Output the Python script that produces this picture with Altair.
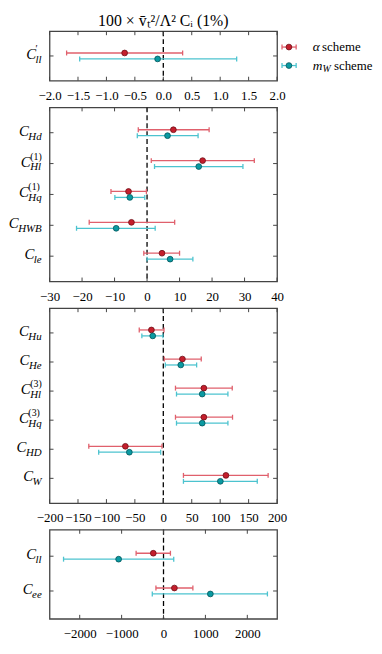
import altair as alt
import pandas as pd

FONT = "Liberation Serif"
FRAME = "#444444"
A_LINE, A_FILL, A_EDGE = "#e0606c", "#c41e2c", "#6e1018"
M_LINE, M_FILL, M_EDGE = "#4cc3cf", "#0a9aa2", "#05555a"
W = 230

# ---------------- data ----------------
# panel 1
p1_sub = ["ll"]
p1_sup = ["′"]
p1_a_c = [-0.68]; p1_a_lo = [-1.70]; p1_a_hi = [0.34]
p1_m_c = [-0.10]; p1_m_lo = [-1.47]; p1_m_hi = [1.29]
p1_ticks = [-2.0, -1.5, -1.0, -0.5, 0.0, 0.5, 1.0, 1.5, 2.0]

# panel 2
p2_sub = ["Hd", "Hl", "Hq", "HWB", "le"]
p2_sup = ["", "(1)", "(1)", "", ""]
p2_a_c = [8.1, 17.1, -5.7, -4.8, 4.6]
p2_a_lo = [-2.7, 1.3, -11.1, -17.8, -1.0]
p2_a_hi = [19.1, 33.0, -0.2, 8.5, 10.0]
p2_m_c = [6.3, 15.9, -5.3, -9.5, 7.1]
p2_m_lo = [-3.0, 2.3, -9.9, -21.7, 0.0]
p2_m_hi = [15.7, 29.5, -0.7, 2.5, 14.1]
p2_ticks = [-30, -20, -10, 0, 10, 20, 30, 40]

# panel 3
p3_sub = ["Hu", "He", "Hl", "Hq", "HD", "W"]
p3_sup = ["", "", "(3)", "(3)", "", ""]
p3_a_c = [-20.9, 33.6, 71.3, 71.3, -66.7, 110.1]
p3_a_lo = [-42.3, 1.7, 21.4, 21.4, -131.0, 35.4]
p3_a_hi = [1.2, 66.7, 121.2, 121.7, -2.3, 184.3]
p3_m_c = [-18.6, 30.7, 68.4, 68.4, -59.7, 100.3]
p3_m_lo = [-37.7, 3.5, 23.2, 23.2, -113.6, 35.4]
p3_m_hi = [-0.6, 58.6, 113.6, 113.6, -4.6, 165.2]
p3_ticks = [-200, -150, -100, -50, 0, 50, 100, 150, 200]

# panel 4
p4_sub = ["ll", "ee"]
p4_sup = ["", ""]
p4_a_c = [-244, 260]; p4_a_lo = [-654, -181]; p4_a_hi = [165, 701]
p4_m_c = [-1071, 1118]; p4_m_lo = [-2386, -268]; p4_m_hi = [244, 2480]
p4_ticks = [-2000, -1000, 0, 1000, 2000]

schemes = ["α scheme", "mW scheme"]

# approximate glyph widths (em) for label layout
CW = {"H": 0.72, "W": 0.83, "B": 0.61, "D": 0.72, "d": 0.5, "l": 0.28, "q": 0.5,
      "u": 0.5, "e": 0.44, "(": 0.33, ")": 0.33, "1": 0.5, "3": 0.5, "′": 0.3}


def tw(s, size):
    return sum(CW.get(ch, 0.5) for ch in s) * size


def panel(sub, sup, a_c, a_lo, a_hi, m_c, m_lo, m_hi, xdom, ticks, fmt, ydom, H,
          legend=False, title=None):
    n = len(sub)
    rows = list(range(n))
    ppx = (xdom[1] - xdom[0]) / W          # data units per pixel
    ppy = (ydom[1] - ydom[0]) / H
    xs = alt.Scale(domain=xdom, nice=False, zero=False)
    ys = alt.Scale(domain=ydom, nice=False, zero=False, reverse=True)
    axis = alt.Axis(values=ticks, format=fmt, title=None, orient="bottom")

    def X(f):
        return alt.X(f, type="quantitative", scale=xs, axis=axis)

    Y = alt.Y("row:Q", scale=ys, axis=None)

    da = pd.DataFrame({"row": rows, "c": a_c, "lo": a_lo, "hi": a_hi})
    dm = pd.DataFrame({"row": rows, "c": m_c, "lo": m_lo, "hi": m_hi})

    layers = []
    zero = alt.Chart(pd.DataFrame({"z": [0]})).mark_rule(
        color="black", strokeWidth=1.3, strokeDash=[5, 3]).encode(x=X("z"))
    layers.append(zero)

    for d, line, fill, edge, off in [(da, A_LINE, A_FILL, A_EDGE, -3),
                                     (dm, M_LINE, M_FILL, M_EDGE, 3)]:
        base = alt.Chart(d)
        layers.append(base.mark_rule(color=line, strokeWidth=1.3, yOffset=off)
                      .encode(x=X("lo"), x2="hi:Q", y=Y))
        layers.append(base.transform_fold(["lo", "hi"], as_=["k", "v"])
                      .mark_point(shape="M0,-1L0,1", size=25, stroke=line, strokeWidth=1.3,
                                  filled=False, opacity=1, yOffset=off)
                      .encode(x=X("v"), y=Y))
        layers.append(base.mark_point(filled=True, size=34, fill=fill, stroke=edge,
                                      strokeWidth=0.8, opacity=1, yOffset=off)
                      .encode(x=X("c"), y=Y))

    # inward ticks
    dt = pd.DataFrame({"t": ticks})
    layers.append(alt.Chart(dt).mark_rule(color=FRAME, strokeWidth=1)
                  .encode(x=X("t"), y=alt.value(0), y2=alt.value(4)))
    layers.append(alt.Chart(dt).mark_rule(color=FRAME, strokeWidth=1)
                  .encode(x=X("t"), y=alt.value(H - 4), y2=alt.value(H)))
    dr = pd.DataFrame({"row": rows})
    layers.append(alt.Chart(dr).mark_rule(color=FRAME, strokeWidth=1)
                  .encode(y=Y, x=alt.value(0), x2=alt.value(4)))
    layers.append(alt.Chart(dr).mark_rule(color=FRAME, strokeWidth=1)
                  .encode(y=Y, x=alt.value(W - 4), x2=alt.value(W)))

    # y labels  C_{sub}^{sup}
    gap = 8
    SUB, SUP, MAIN = 11, 10, 15
    recs = []
    for i in range(n):
        ext = max(tw(sub[i], SUB), tw(sup[i], SUP))
        left = -gap - ext
        recs.append({"row": i, "sub": sub[i], "sup": sup[i],
                     "xs": xdom[0] + left * ppx, "xc": xdom[0] + (left + 0.5) * ppx})
    dl = pd.DataFrame(recs)
    lab = alt.Chart(dl)
    layers.append(lab.mark_text(font=FONT, fontStyle="italic", fontSize=MAIN, align="right",
                                baseline="alphabetic", dy=3, color="black")
                  .encode(x=X("xc"), y=Y, text=alt.value("C")))
    layers.append(lab.mark_text(font=FONT, fontStyle="italic", fontSize=SUB, align="left",
                                baseline="alphabetic", dy=7, color="black")
                  .encode(x=X("xs"), y=Y, text="sub:N"))
    layers.append(lab.mark_text(font=FONT, fontSize=SUP, align="left",
                                baseline="alphabetic", dy=-4, color="black")
                  .encode(x=X("xs"), y=Y, text="sup:N"))

    if legend:
        def lx(px):
            return xdom[0] + px * ppx

        def ly(py):
            return ydom[0] + py * ppy

        dg = pd.DataFrame({
            "scheme": schemes,
            "y": [ly(16), ly(34.7)],
            "x1": [lx(235), lx(235)], "x2": [lx(249.3), lx(249.3)], "xm": [lx(242), lx(242)],
            "xt": [lx(266), lx(266)], "xw": [lx(276), lx(276)],
            "xs": [lx(275.5), lx(287.5)],
            "sym": ["α", "m"], "subw": ["", "W"],
            "line": [A_LINE, M_LINE], "fill": [A_FILL, M_FILL], "edge": [A_EDGE, M_EDGE],
        })
        LY = alt.Y("y:Q", scale=ys, axis=None)
        g = alt.Chart(dg)
        layers.append(g.mark_rule(strokeWidth=1.3).encode(
            x=X("x1"), x2="x2:Q", y=LY, color=alt.Color("line:N", scale=None)))
        layers.append(g.transform_fold(["x1", "x2"], as_=["k", "v"])
                      .mark_point(shape="M0,-1L0,1", size=25, strokeWidth=1.3, filled=False, opacity=1)
                      .encode(x=X("v"), y=LY, stroke=alt.Stroke("line:N", scale=None)))
        layers.append(g.mark_point(filled=True, size=34, strokeWidth=0.8, opacity=1).encode(
            x=X("xm"), y=LY, fill=alt.Fill("fill:N", scale=None),
            stroke=alt.Stroke("edge:N", scale=None)))
        layers.append(g.mark_text(font=FONT, fontStyle="italic", fontSize=13.5, align="left",
                                  baseline="alphabetic", dy=4, color="black")
                      .encode(x=X("xt"), y=LY, text="sym:N"))
        layers.append(g.mark_text(font=FONT, fontStyle="italic", fontSize=10, align="left",
                                  baseline="alphabetic", dy=7, color="black")
                      .encode(x=X("xw"), y=LY, text="subw:N"))
        layers.append(g.mark_text(font=FONT, fontSize=13, align="left",
                                  baseline="alphabetic", dy=4, color="black")
                      .encode(x=X("xs"), y=LY, text=alt.value("scheme")))

    ch = alt.layer(*layers).properties(width=W, height=H)
    if title is not None:
        ch = ch.properties(title=title)
    return ch


title = alt.TitleParams(text="100 × v̄ₜ²/Λ² Cᵢ (1%)", font=FONT, fontSize=16,
                        fontWeight="normal", anchor="middle", frame="group", offset=2,
                        color="black")

c1 = panel(p1_sub, p1_sup, p1_a_c, p1_a_lo, p1_a_hi, p1_m_c, p1_m_lo, p1_m_hi,
           [-2, 2], p1_ticks, ".1f", [-1, 1], 50, legend=True, title=title)
c2 = panel(p2_sub, p2_sup, p2_a_c, p2_a_lo, p2_a_hi, p2_m_c, p2_m_lo, p2_m_hi,
           [-30, 40], p2_ticks, "d", [-0.82, 4.82], 176)
c3 = panel(p3_sub, p3_sup, p3_a_c, p3_a_lo, p3_a_hi, p3_m_c, p3_m_lo, p3_m_hi,
           [-200, 200], p3_ticks, "d", [-0.85, 5.85], 197)
c4 = panel(p4_sub, p4_sup, p4_a_c, p4_a_lo, p4_a_hi, p4_m_c, p4_m_lo, p4_m_hi,
           [-2720, 2710], p4_ticks, "d", [-0.76, 1.8], 90)

chart = alt.vconcat(c1, c2, c3, c4, spacing=2).configure_view(
    stroke=FRAME, strokeWidth=1.3
).configure_axis(
    labelFont=FONT, labelFontSize=13, labelColor="black", ticks=False, domain=False,
    grid=False, labelPadding=9, labelFlush=False, labelOverlap=False
).properties(padding={"left": 0, "top": 0, "right": 0, "bottom": 0})

chart.save("out.html", embed_options={"renderer": "svg", "actions": False})
